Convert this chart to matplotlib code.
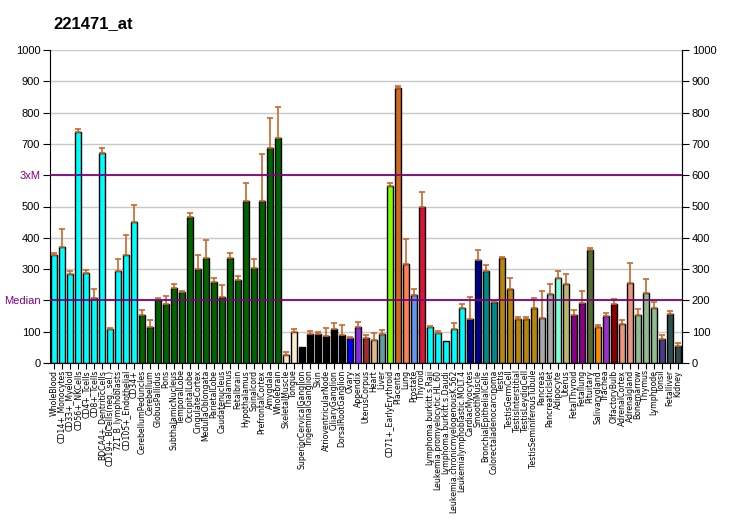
import matplotlib
matplotlib.use("Agg")
import matplotlib.pyplot as plt
import numpy as np

plt.rcParams['font.family'] = ['Liberation Sans', 'DejaVu Sans']

title = "221471_at"

labels = [
    "WholeBlood", "CD14+_Monocytes", "CD33+_Myeloid", "CD56+_NKCells", "CD4+_Tcells",
    "CD8+_Tcells", "BDCA4+_DentriticCells", "CD19+_BCells(neg._sel.)", "721_B_lymphoblasts",
    "CD105+_Endothelial", "CD34+", "CerebellumPeduncles", "Cerebellum", "GlobusPallidus",
    "Pons", "SubthalamicNucleus", "TemporalLobe", "OccipitalLobe", "CingulateCortex",
    "MedullaOblongata", "ParietalLobe", "Caudatenucleus", "Thalamus", "Fetalbrain",
    "Hypothalamus", "Spinalcord", "PrefrontalCortex", "Amygdala", "Wholebrain",
    "SkeletalMuscle", "Tongue", "SuperiorCervicalGanglion", "TrigeminalGanglion", "Skin",
    "AtrioventricularNode", "CiliaryGanglion", "DorsalRootGanglion", "Ovary", "Appendix",
    "UterusCorpus", "Heart", "Liver", "CD71+_EarlyErythroid", "Placenta", "Lung",
    "Prostate", "Thyroid", "Lymphoma.burkitt.s.Raji", "Leukemia.promyelocytic.HL.60",
    "Lymphoma.burkitt.s.Daudi", "Leukemia.chronicmyelogenousK.562",
    "Leukemialymphoblastic.MOLT.4", "CardiacMyocytes", "SmoothMuscle",
    "BronchialEpithelialCells", "Colorectaladenocarcinoma", "Testis", "TestisGermCell",
    "TestisInterstitial", "TestisLeydigCell", "TestisSeminiferousTubule", "Pancreas",
    "PancreaticIslet", "Adipocyte", "Uterus", "FetalThyroid", "Fetallung", "Pituitary",
    "Salivarygland", "Trachea", "OlfactoryBulb", "AdrenalCortex", "Adrenalgland",
    "Bonemarrow", "Thymus", "Lymphnode", "Tonsil", "Fetalliver", "Kidney",
]

values = [
    344, 370, 284, 738, 287, 207, 671, 108, 293, 344, 450,
    152, 114, 200, 188, 239, 226, 466, 300, 335, 258, 210, 335, 265, 517, 303, 517, 687, 719,
    25, 98, 50, 92, 92, 85, 108, 88, 79, 114, 79, 72, 92,
    565, 878, 316, 216, 498,
    114, 95, 69, 108, 175,
    140, 328, 293, 194,
    335, 236, 140, 140, 175,
    143, 220, 271, 252, 152, 191, 360,
    114, 149, 188, 124, 255, 152, 223, 175, 76, 156, 53,
]

err_top = [
    351, 427, 293, 747, 296, 236, 687, 111, 332, 408, 504,
    168, 136, 207, 213, 252, 229, 479, 344, 392, 271, 248, 351, 277, 575, 332, 667, 783, 818,
    34, 108, 50, 101, 98, 111, 127, 120, 82, 130, 88, 95, 104,
    575, 885, 396, 236, 546,
    117, 101, 69, 127, 188,
    210, 360, 312, 197,
    338, 271, 146, 146, 207,
    229, 252, 293, 284, 168, 229, 367,
    120, 159, 204, 136, 319, 172, 268, 194, 88, 165, 63,
]

colors = (
    ["#00FFFF"] * 11 + ["#006400"] * 18 +
    ["#FFE4C4", "#FFEBCD"] + ["#000000"] * 6 +
    ["#0000FF", "#8A2BE2", "#A52A2A", "#DEB887", "#5F9EA0",
     "#7FFF00", "#D2691E", "#FF7F50", "#6495ED", "#DC143C"] +
    ["#00FFFF"] * 5 + ["#00008B"] * 2 + ["#008B8B"] * 2 +
    ["#B8860B"] * 5 + ["#A9A9A9"] * 2 +
    ["#7FFFD4", "#BDB76B", "#8B008B", "#8B008B", "#556B2F",
     "#FF8C00", "#9932CC", "#8B0000", "#E9967A", "#E9967A"] +
    ["#8FBC8F"] * 3 + ["#483D8B", "#2F4F4F", "#2F4F4F"]
)

median_val = 200
three_xm = 600
yticks = [0, 100, 200, 300, 400, 500, 600, 700, 800, 900, 1000]
left_ticklabels = ["0", "100", "Median", "300", "400", "500", "3xM", "700", "800", "900", "1000"]

W, H = 732, 530
fig = plt.figure(figsize=(W / 100, H / 100), dpi=100)
ax = fig.add_axes([50 / W, 1 - 363 / H, 632 / W, 313 / H])

x = np.arange(len(values))
vals = np.array(values, dtype=float)
errs = np.array(err_top, dtype=float) - vals

for yv in yticks:
    ax.axhline(yv, color="#C8C8C8", lw=1, zorder=0)

ax.bar(x, vals, width=0.82, color=colors, edgecolor="black", linewidth=1, zorder=2)
mask = errs > 0
ax.errorbar(x[mask], vals[mask], yerr=[np.zeros(mask.sum()), errs[mask]], fmt="none",
            ecolor="#C8682C", elinewidth=1.2, capsize=2.2, capthick=1.2, zorder=3)

ax.axhline(median_val, color="#800080", lw=1.3, zorder=4)
ax.axhline(three_xm, color="#800080", lw=1.3, zorder=4)

ax.set_xlim(-0.5, len(values) - 0.5)
ax.set_ylim(0, 1000)
ax.set_xticks(x)
ax.set_xticklabels(labels, rotation=90, fontsize=5.6, family=["DejaVu Sans"])
ax.tick_params(axis="x", length=4, pad=1)
ax.set_yticks(yticks)
ax.set_yticklabels(left_ticklabels, fontsize=8)
ax.tick_params(axis="y", length=5, pad=2)
for lbl, t in zip(ax.get_yticklabels(), left_ticklabels):
    if t in ("Median", "3xM"):
        lbl.set_color("#800080")

ax2 = ax.twinx()
ax2.set_ylim(0, 1000)
ax2.set_yticks(yticks)
ax2.set_yticklabels([str(v) for v in yticks], fontsize=8)
ax2.tick_params(axis="y", length=5, pad=2)

for a in (ax, ax2):
    a.spines["top"].set_visible(False)
ax2.spines["bottom"].set_visible(False)
ax2.spines["left"].set_visible(False)

fig.text(53 / W, 1 - 24 / H, title, fontsize=12, fontweight="bold", va="center", ha="left")

fig.savefig("out.png", dpi=100)
